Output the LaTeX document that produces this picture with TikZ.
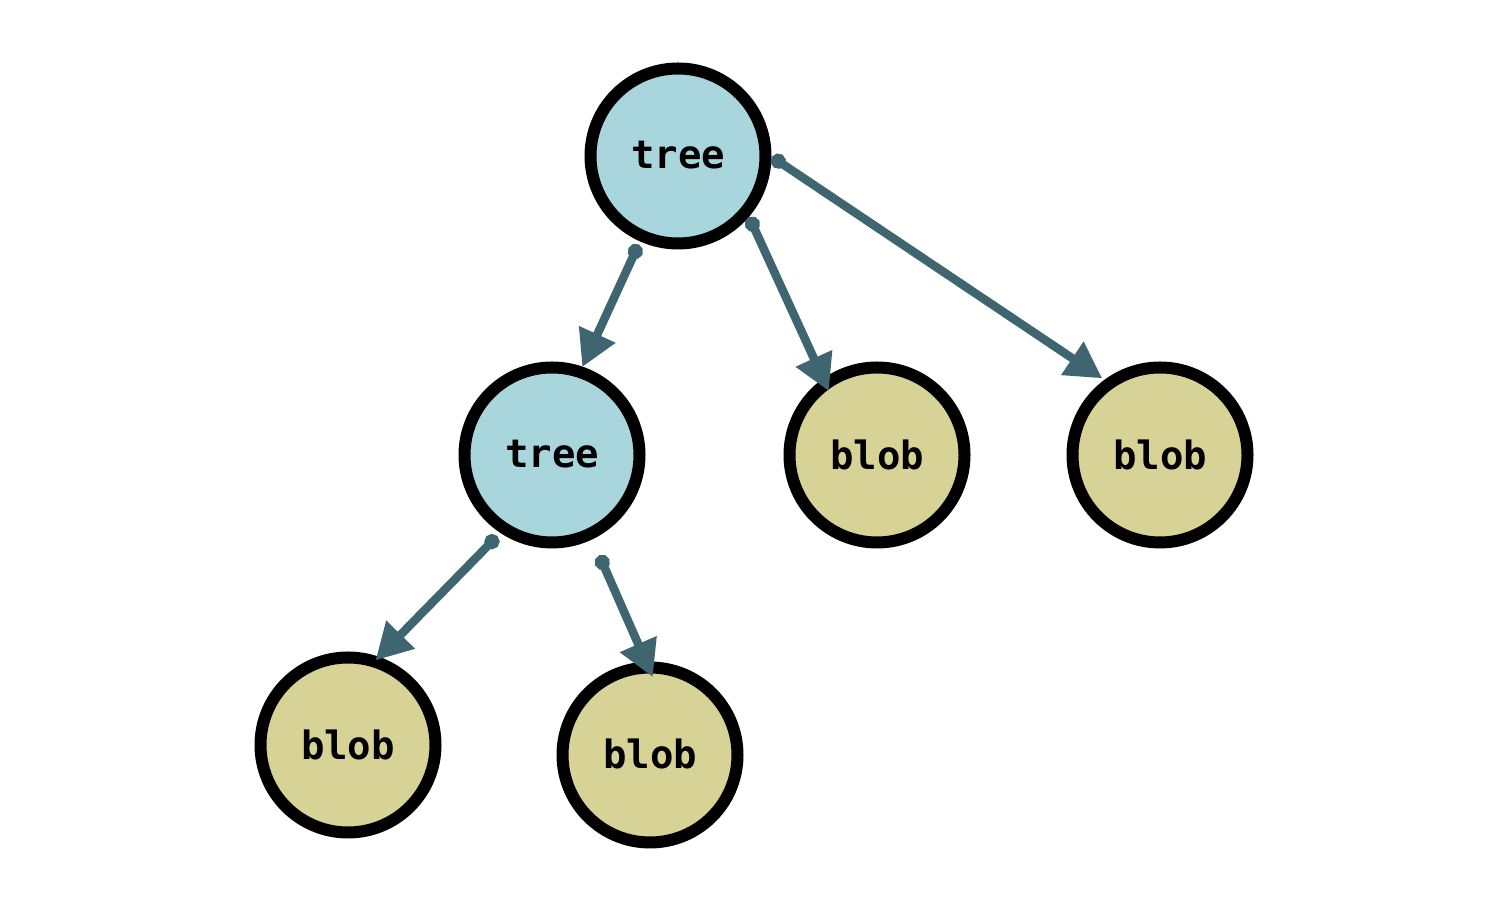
\documentclass[tikz,border=0pt]{standalone}
\usepackage{fontspec}
\setmonofont{DejaVu Sans Mono}
\usetikzlibrary{arrows.meta,calc}
\definecolor{treefill}{HTML}{A9D5DD}
\definecolor{blobfill}{HTML}{D7D295}
\definecolor{edgecol}{HTML}{3F6670}
\begin{document}
\begin{tikzpicture}[x=1pt,y=1pt,
  objnode/.style={circle,draw=black,line width=12pt,minimum size=175pt,inner sep=0pt,
    font=\fontsize{39}{42}\selectfont\ttfamily\bfseries},
  treenode/.style={objnode,fill=treefill},
  blobnode/.style={objnode,fill=blobfill},
  edge/.style={draw=edgecol,line width=8.5pt,
    {Circle[length=15pt]}-{Triangle[length=36pt,width=38pt]}}]
\useasboundingbox (0,0) rectangle (1510,912);
\node[treenode] (t1) at (678,756) {\raisebox{3pt}{tree}};
\node[treenode] (t2) at (552,457) {\raisebox{2pt}{tree}};
\node[blobnode] (b1) at (877,457) {blob};
\node[blobnode] (b2) at (1160,457) {blob};
\node[blobnode] (b3) at (348,167) {blob};
\node[blobnode] (b4) at (650,157) {\raisebox{3pt}{blob}};
% edges run from just outside the parent's rim to the child's rim
\draw[edge] ([shift={(246:97pt)}]t1.center) -- ([shift={(71:93pt)}]t2.center);
\draw[edge] ([shift={(-40.7:94pt)}]t1.center) -- ([shift={(127:80pt)}]b1.center);
\draw[edge] ([shift={(-0.6:94pt)}]t1.center) -- ([shift={(127:96pt)}]b2.center);
\draw[edge] ([shift={(236:98pt)}]t2.center) -- ([shift={(72:89pt)}]b3.center);
\draw[edge] ([shift={(-64.8:111pt)}]t2.center) -- ([shift={(88:78pt)}]b4.center);
\end{tikzpicture}
\end{document}
